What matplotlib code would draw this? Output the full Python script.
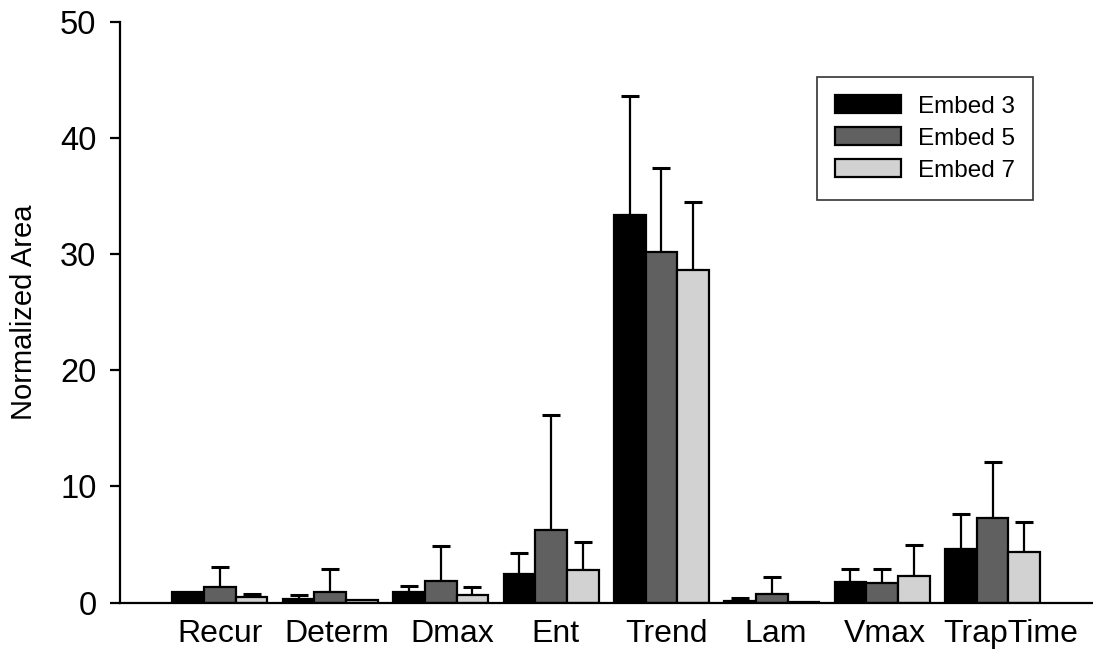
import numpy as np
import matplotlib
matplotlib.use('Agg')
import matplotlib.pyplot as plt
import matplotlib.transforms as mtransforms

plt.rcParams['font.family'] = ['Liberation Sans', 'DejaVu Sans']

# data
categories = ['Recur', 'Determ', 'Dmax', 'Ent', 'Trend', 'Lam', 'Vmax', 'TrapTime']
embed3 = [0.9, 0.3, 0.95, 2.45, 33.4, 0.17, 1.8, 4.6]
embed3_err = [0.0, 0.36, 0.45, 1.85, 10.2, 0.26, 1.1, 3.0]
embed5 = [1.33, 0.95, 1.87, 6.28, 30.2, 0.75, 1.67, 7.25]
embed5_err = [1.72, 1.95, 2.97, 9.9, 7.2, 1.44, 1.23, 4.85]
embed7 = [0.46, 0.23, 0.66, 2.82, 28.6, 0.09, 2.27, 4.32]
embed7_err = [0.29, 0.0, 0.72, 2.36, 5.9, 0.0, 2.71, 2.65]

series = [('Embed 3', embed3, embed3_err, '#000000'),
          ('Embed 5', embed5, embed5_err, '#606060'),
          ('Embed 7', embed7, embed7_err, '#d2d2d2')]

fig = plt.figure(figsize=(10.93, 6.57), dpi=100)
ax = fig.add_axes([0.1098, 0.0827, 0.8902, 0.8843])

x = np.arange(len(categories))
w = 0.287
for i, (name, vals, errs, col) in enumerate(series):
    pos = x + (i - 1) * w
    ax.bar(pos, vals, w, color=col, edgecolor='black', linewidth=1.6, label=name, zorder=2)
    vals = np.array(vals)
    errs = np.array(errs)
    m = errs > 0
    ax.errorbar(pos[m], vals[m], yerr=[np.zeros(m.sum()), errs[m]], fmt='none',
                ecolor='black', elinewidth=1.6, capsize=6.5, capthick=2.2, zorder=1)

ax.set_xlim(-0.905, 7.91)
ax.set_ylim(0, 50)
ax.set_yticks([0, 10, 20, 30, 40, 50])
ax.set_xticks(x)
ax.set_xticklabels(categories)
ax.tick_params(axis='x', length=0, pad=12, labelsize=23)
ax.tick_params(axis='y', length=7, width=1.6, pad=10, labelsize=23.5)
ax.spines['top'].set_visible(False)
ax.spines['right'].set_visible(False)
ax.spines['left'].set_linewidth(1.6)
ax.spines['bottom'].set_linewidth(1.6)

# the labels in the original sit a little right of the group centres
shifts = [0, 5, 8, 3, 4, 3, 2, 13]
for lab, s in zip(ax.get_xticklabels(), shifts):
    lab.set_transform(lab.get_transform() + mtransforms.ScaledTranslation(s / 72, 0, fig.dpi_scale_trans))

ax.set_ylabel('Normalized Area', fontsize=21)
ax.yaxis.set_label_coords(-0.084, 0.5)

leg = ax.legend(loc='upper left', bbox_to_anchor=(0.7475, 0.8828), bbox_transform=fig.transFigure,
                borderaxespad=0, fontsize=17.5, handlelength=2.7, handleheight=0.75,
                handletextpad=0.7, labelspacing=0.4, borderpad=0.75, fancybox=False, framealpha=1)
leg.get_frame().set_edgecolor('#333333')
leg.get_frame().set_linewidth(1.2)

plt.savefig('out.png', dpi=100)
